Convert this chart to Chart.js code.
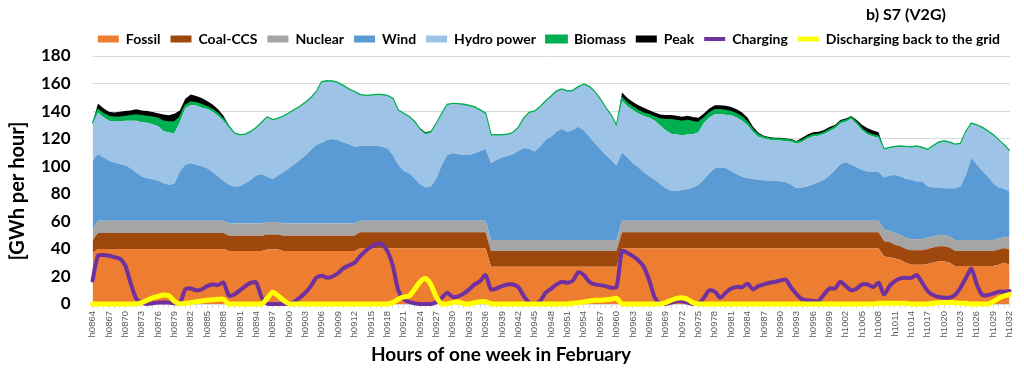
<!DOCTYPE html>
<html>
<head>
<meta charset="utf-8">
<script src="https://cdn.jsdelivr.net/npm/chart.js@4.4.1/dist/chart.umd.min.js"></script>
<style>
  html, body { margin: 0; padding: 0; background: #ffffff; }
  #wrap { width: 1024px; height: 373px; }
</style>
</head>
<body>
<div id="wrap"><canvas id="c" width="1024" height="373"></canvas></div>
<script>
const CHART_TITLE = 'b) S7 (V2G)';
const X_TITLE = 'Hours of one week in February';
const Y_TITLE = '[GWh per hour]';
const Y_TICKS = [0, 20, 40, 60, 80, 100, 120, 140, 160, 180];

const HOURS = [
'h0864','h0865','h0866','h0867','h0868','h0869','h0870','h0871','h0872','h0873','h0874','h0875',
'h0876','h0877','h0878','h0879','h0880','h0881','h0882','h0883','h0884','h0885','h0886','h0887',
'h0888','h0889','h0890','h0891','h0892','h0893','h0894','h0895','h0896','h0897','h0898','h0899',
'h0900','h0901','h0902','h0903','h0904','h0905','h0906','h0907','h0908','h0909','h0910','h0911',
'h0912','h0913','h0914','h0915','h0916','h0917','h0918','h0919','h0920','h0921','h0922','h0923',
'h0924','h0925','h0926','h0927','h0928','h0929','h0930','h0931','h0932','h0933','h0934','h0935',
'h0936','h0937','h0938','h0939','h0940','h0941','h0942','h0943','h0944','h0945','h0946','h0947',
'h0948','h0949','h0950','h0951','h0952','h0953','h0954','h0955','h0956','h0957','h0958','h0959',
'h0960','h0961','h0962','h0963','h0964','h0965','h0966','h0967','h0968','h0969','h0970','h0971',
'h0972','h0973','h0974','h0975','h0976','h0977','h0978','h0979','h0980','h0981','h0982','h0983',
'h0984','h0985','h0986','h0987','h0988','h0989','h0990','h0991','h0992','h0993','h0994','h0995',
'h0996','h0997','h0998','h0999','h1000','h1001','h1002','h1003','h1004','h1005','h1006','h1007',
'h1008','h1009','h1010','h1011','h1012','h1013','h1014','h1015','h1016','h1017','h1018','h1019',
'h1020','h1021','h1022','h1023','h1024','h1025','h1026','h1027','h1028','h1029','h1030','h1031',
'h1032'];

const FOSSIL = [
37,40,40,40,40,40,40,40,40,40,40,40,
40,40,40,40,40,40,40,40,40,40,40,40,
40,38.5,38.5,38.5,38.5,38.5,38.5,38.5,39.5,39.5,39.5,38.5,
38.5,38.5,38.5,38.5,38.5,38.5,38.5,38.5,38.5,38.5,38.5,38.5,
38.5,40.5,40.5,40.5,40.5,40.5,40.5,40.5,40.5,40.5,40.5,40.5,
40.5,40.5,40.5,40.5,40.5,40.5,40.5,40.5,40.5,40.5,40.5,40.5,
40.5,27,27,27,27,27,27,27,27,27,27,27,
27,27,27,27,27,27,27,27,27,27,27,27,
27,40.5,40.5,40.5,40.5,40.5,40.5,40.5,40.5,40.5,40.5,40.5,
40.5,40.5,40.5,40.5,40.5,40.5,40.5,40.5,40.5,40.5,40.5,40.5,
40.5,40.5,40.5,40.5,40.5,40.5,40.5,40.5,40.5,40.5,40.5,40.5,
40.5,40.5,40.5,40.5,40.5,40.5,40.5,40.5,40.5,40.5,40.5,40.5,
40.5,34.5,34,33,32,30,28.5,28.5,28.5,29,30,31,
31,30,27.5,27.5,27.5,27.5,27.5,27.5,27.5,27.5,28.5,30,
28.5];

const COAL_CCS = [
9,11.5,11.5,11.5,11.5,11.5,11.5,11.5,11.5,11.5,11.5,11.5,
11.5,11.5,11.5,11.5,11.5,11.5,11.5,11.5,11.5,11.5,11.5,11.5,
11.5,11,11,11,11,11,11,11,11,11,11,11,
11,11,11,11,11,11,11,11,11,11,11,11,
11,11.5,11.5,11.5,11.5,11.5,11.5,11.5,11.5,11.5,11.5,11.5,
11.5,11.5,11.5,11.5,11.5,11.5,11.5,11.5,11.5,11.5,11.5,11.5,
11.5,11.5,11.5,11.5,11.5,11.5,11.5,11.5,11.5,11.5,11.5,11.5,
11.5,11.5,11.5,11.5,11.5,11.5,11.5,11.5,11.5,11.5,11.5,11.5,
11.5,11.5,11.5,11.5,11.5,11.5,11.5,11.5,11.5,11.5,11.5,11.5,
11.5,11.5,11.5,11.5,11.5,11.5,11.5,11.5,11.5,11.5,11.5,11.5,
11.5,11.5,11.5,11.5,11.5,11.5,11.5,11.5,11.5,11.5,11.5,11.5,
11.5,11.5,11.5,11.5,11.5,11.5,11.5,11.5,11.5,11.5,11.5,11.5,
11.5,11,11,10,10,10,10.5,10.5,10.5,11,11,11,
11,11,11,11,11,11,11,11,11,11,11,10.5,
11];

const NUCLEAR = [
8,9,9,9,9,9,9,9,9,9,9,9,
9,9,9,9,9,9,9,9,9,9,9,9,
9,9,9,9,9,9,9,9,9,9,9,9,
9,9,9,9,9,9,9,9,9,9,9,9,
9,8.5,8.5,8.5,8.5,8.5,8.5,8.5,8.5,8.5,8.5,8.5,
8.5,8.5,8.5,8.5,8.5,8.5,8.5,8.5,8.5,8.5,8.5,8.5,
8.5,8,8,8,8,8,8,8,8,8,8,8,
8,8,8,8,8,8,8,8,8,8,8,8,
8,8.5,8.5,8.5,8.5,8.5,8.5,8.5,8.5,8.5,8.5,8.5,
8.5,8.5,8.5,8.5,8.5,8.5,8.5,8.5,8.5,8.5,8.5,8.5,
8.5,8.5,8.5,8.5,8.5,8.5,8.5,8.5,8.5,8.5,8.5,8.5,
8.5,8.5,8.5,8.5,8.5,8.5,8.5,8.5,8.5,8.5,8.5,8.5,
8.5,8.5,8,8.5,8,8,8,8,8,8,8,8,
8,8,8,8,8,8,8,8,8,8,8,8,
9];

const WIND = [
50,48.2,45.8,43.5,42.2,41.2,40,38.1,34.9,32,30.8,30.1,
28.9,27.2,26,26.7,35.6,40.5,41.7,40.5,39.3,38.1,35.2,32,
28.9,28,26.8,27,29.2,31.6,34.8,35.7,32.8,31.3,33.8,37.2,
40.1,42.9,46.1,49.2,53.3,56.9,58.5,60.5,61.3,60.5,58.8,57.4,
55.7,54.2,54.2,54.4,54.4,53.7,52.5,47.7,40.5,36.1,34.4,30.8,
26.5,24.1,24.8,30.8,40.5,47.7,48.9,48.2,47.7,47.7,48.9,50.6,
52,55.7,58.1,59.8,61,62.2,64.6,66.5,66,64.1,67.7,72.5,
74.9,78.6,80.5,78.6,79.8,82.2,79.5,74.9,70.1,66,61.7,58.1,
54,49.4,45.8,41.7,38.5,35.2,32,29.6,26.5,23.6,21.7,21.7,
22.2,22.9,24.1,26,29.6,34.4,38.1,38.8,38.1,36.1,33.7,31.8,
30.8,30.3,29.6,29.1,28.9,28.9,28.4,27.9,26,23.6,24.1,24.8,
26.5,27.9,29.6,32.8,36.8,40.9,42.4,40.5,38.5,36.8,35.6,35.6,
35.2,37.8,40.3,42.2,42.5,42.8,43.1,41.9,41.9,37.3,35.6,34.6,
34.1,35.1,37.6,38.8,47.2,59.5,54.5,50.1,46,41.2,37.1,35.1,
33.2];

const HYDRO = [
26.5,30.3,29.2,29,29.8,30.8,32.5,34.4,37.6,39.5,40.2,39.8,
39.6,37.8,38,36.8,35.9,41,42.3,43,42.7,42.9,43.8,44,
43.6,41.5,38.2,36.8,35,34.6,34.3,37.2,43,42.5,41,40.3,
39.6,39.2,38.4,38.2,37.4,38.2,43.8,42.5,41.5,41.1,40.6,39.6,
39.4,36.9,36.2,36.3,36.7,37.4,37.9,40.6,39.3,41.3,40.6,40.6,
39.3,38.6,39,39.4,36.9,36.2,35.7,36.2,36.2,35.3,33.1,29.2,
25.4,20.1,17.7,16,15.2,15.2,16.5,21.3,26.1,29,28.5,27.8,
28.9,29,28.5,29,28.2,28.5,33.1,36,37,35.8,33.8,32.1,
28.5,37.6,37.3,38.5,39.3,40.7,42.7,42.9,42.6,42,41.4,40.9,
39.7,39.7,38.6,38.2,41.2,40.5,39.2,38.5,38.8,40.3,41.2,40.7,
38.4,33.9,31.2,30.6,29.8,29.3,29.8,29.8,31.3,32.2,33.1,34.8,
34.6,33.7,33.2,32.1,30.1,29.6,29.3,33.4,31.5,28.6,26.9,25.4,
24.9,20.3,19.8,20.1,21.6,23,23.5,25.2,24.2,26.3,29.9,32.3,
33.8,32.8,31.4,30.7,31,24.7,28.5,31,32.6,34.6,34,31.4,
29];

const BIOMASS = [
0.5,2,2.5,3,3,3,3,3.5,4,4.5,4.5,5,
5.5,7,7.5,8,3.5,2,2,2,2,1.5,1.5,1.5,
1,0.8,0.4,0.4,0.4,0.4,0.4,0.4,0.4,0.4,0.4,0.4,
0.4,0.4,0.4,0.4,0.4,0.4,0.4,0.4,0.4,0.4,0.4,0.4,
0.4,0.4,0.4,0.4,0.4,0.4,0.4,0.4,0.4,0.4,0.4,0.4,
0.4,0.4,0.4,0.4,0.4,0.4,0.4,0.4,0.4,0.4,0.4,0.4,
0.4,0.4,0.4,0.4,0.4,0.4,0.4,0.4,0.4,0.4,0.4,0.4,
0.4,0.4,0.4,0.4,0.4,0.4,0.4,0.4,0.4,0.4,0.4,0.4,
0.4,2,2,2,2,2,2,2.5,4.5,7.5,10,10,
10,10,9,7,3.5,3,3,3,3,2.5,2.5,2.5,
2,1.5,1.5,1,1,1,1,1,1,1,1,1,
1,1,1,1,1,1,1,1,1,1,1,1,
1,0.4,0.4,0.4,0.4,0.4,0.4,0.4,0.4,0.4,0.4,0.4,
0.4,0.4,0.4,0.4,0.4,0.4,0.4,0.4,0.4,0.4,0.4,0.4,
0.4];

const PEAK = [
0,4.5,4,3.5,3.5,4,4,4,4.4,4,4,4,
4,5,5,6,5,5,5.5,5,5,4.3,3.8,3.4,
2.6,0.6,0,0,0,0,0,0,0,0,0,0,
0,0,0,0,0,0,0,0,0,0,0,0,
0,0,0,0,0,0,0,0,0,0,0,0,
0.8,1,0.8,0,0,0,0,0,0,0,0,0,
0,0,0,0,0,0,0,0,0,0,0,0,
0,0,0,0,0,0,0,0,0,0,0,0,
0,4,4,4,4,4,3.5,3.5,3.5,3.5,3.5,3.5,
3.5,3.5,3.5,3.5,3.5,3.5,3.5,3.5,3.5,3.5,3.5,3.5,
3.5,2.5,1.5,1,1,1,1,1,1,1,2,2,
2,2,2,2,1.5,1.5,1.5,1,2,3,3.5,3.5,
3,0,0,0,0,0,0,0,0,0,0,0,
0,0,0,0,0,0,0,0,0,0,0,0,
0];

const CHARGING = [
17,35,35.5,35,34,33,28,15,4,1,0,0.5,
1,1,1,0.5,0.5,10.6,11.3,9.9,10.6,13,14.2,13.7,
15.5,6,7,9.9,13,15.4,15.5,4.6,0.2,0,0,0,
0.2,1.7,4.6,8.2,13,19,20.5,19,20,22.5,26,28,
30,34.5,38.5,41.5,43.5,43.5,38.5,28,10,3.5,1.5,0.5,
0,0,0,1.5,4.6,8.2,5,5.5,7.5,10.6,14.2,16.6,
21,10.6,11.3,13,14.2,14.2,12.3,5.8,1,0.2,2.2,8.2,
11,14.2,16.1,15.4,17,23,21,16.1,14.2,13.7,13,11.8,
12.3,38.5,37,34.7,31.6,27,17,4.6,0,0,1,2,
2,1,0,0,4.6,9.9,9,4.6,8.2,11.3,12.3,12.3,
14.7,10.6,13,14.2,15.4,16.1,17.1,17.6,11.8,7,3.4,2.7,
2.2,2.2,7,11.3,11.3,16.1,13,9.9,11.3,14.2,14.2,12.3,
15.4,7,13,16.6,18.6,19,19,21,15.4,9.4,6.5,5.1,
4.6,4.6,6.5,11.8,19,25.5,14.2,6.5,6.5,7.5,8.9,8.9,
9.4];

const DISCHARGING = [
0,0,0,0,0,0,0,0,0,1,2.7,4.5,
5.5,6.5,6,2,0,0.5,1,1.7,2.2,2.7,3.1,3.4,
3.4,0,0,0,0,0,0,0,4,8.5,6,2.7,
0.2,0,0,0,0,0,0,0,0,0,0,0,
0,0,0,0,0,0,0,1,3.4,5.1,5.8,10.6,
16,18.5,14,5,0,0,1,1.7,0.2,0,1,1.7,
1.7,0.2,0,0,0,0,0,0,0,0,0,0,
0,0,0,0,0.5,1,1.5,2.2,2.7,2.7,3.1,3.4,
4.1,0,0,0,0,0,0,0,0,1,2.7,4.1,
4.6,3.4,1,0,0,0,0,0,0,0,0,0,
0,0,0,0,0,0,0,0,0,0,0,0,
0,0,0,0,0,0,0,0,0,0,0,0,
0.5,0.5,0.5,0.5,0.5,0.5,0,0,0,0,0.5,1,
1,1,1,0.5,0.5,0,0,0,0,1.7,4.1,5.8,
7];

const FONT = 'Lato';

function area(label, data, color, fill, extra) {
  return Object.assign({
    label: label, data: data, fill: fill,
    backgroundColor: color, borderColor: color, borderWidth: 0,
    pointRadius: 0, pointHoverRadius: 0, tension: 0,
    stack: 'generation', order: 0, pointStyle: 'rect'
  }, extra || {});
}
function line(label, data, color, width, stack, order) {
  return {
    label: label, data: data, fill: false,
    backgroundColor: color, borderColor: color, borderWidth: width,
    pointRadius: 0, pointHoverRadius: 0, tension: 0.25,
    stack: stack, order: order, pointStyle: 'line', clip: 6,
    borderJoinStyle: 'round', borderCapStyle: 'round'
  };
}

const overlayTexts = {
  id: 'overlayTexts',
  afterDraw(chart) {
    const ctx = chart.ctx;
    ctx.save();
    ctx.fillStyle = '#000000';
    ctx.textAlign = 'center';
    ctx.textBaseline = 'middle';
    ctx.font = 'bold 16px ' + FONT;
    ctx.fillText(CHART_TITLE, 906, 15);
    ctx.font = 'bold 19px ' + FONT;
    ctx.fillText(X_TITLE, 501, 355);
    ctx.translate(18, 191);
    ctx.rotate(-Math.PI / 2);
    ctx.font = 'bold 20px ' + FONT;
    ctx.fillText(Y_TITLE, 0, 0);
    ctx.restore();
  }
};

new Chart(document.getElementById('c'), {
  type: 'line',
  data: {
    labels: HOURS,
    datasets: [
      area('Fossil', FOSSIL, '#ED7D31', 'origin'),
      area('Coal-CCS', COAL_CCS, '#9E480E', '-1'),
      area('Nuclear', NUCLEAR, '#A5A5A5', '-1'),
      area('Wind', WIND, '#5B9BD5', '-1'),
      area('Hydro power', HYDRO, '#9DC3E6', '-1'),
      area('Biomass', BIOMASS, '#00B050', '-1', {borderWidth: 1.8}),
      area('Peak', PEAK, '#000000', '-1'),
      line('Charging', CHARGING, '#7030A0', 4, 'charging', -1),
      line('Discharging back to the grid', DISCHARGING, '#FFFF00', 5, 'discharging', -2)
    ]
  },
  options: {
    responsive: false,
    animation: false,
    devicePixelRatio: 1,
    events: [],
    layout: { padding: { top: 22, right: 14, bottom: 0, left: 0 } },
    plugins: {
      title: { display: false },
      tooltip: { enabled: false },
      legend: {
        display: true,
        position: 'top',
        align: 'end',
        labels: {
          usePointStyle: true,
          pointStyleWidth: 21,
          boxHeight: 7,
          padding: 10,
          color: '#000000',
          font: { family: FONT, size: 14, weight: 'bold' },
          sort: (a, b) => a.datasetIndex - b.datasetIndex
        }
      }
    },
    scales: {
      x: {
        type: 'category',
        offset: false,
        grid: { display: true, drawOnChartArea: false, drawTicks: true, tickLength: 4, color: '#D9D9D9' },
        border: { display: true, color: '#D9D9D9' },
        ticks: {
          autoSkip: false,
          minRotation: 90,
          maxRotation: 90,
          padding: 3,
          color: '#595959',
          font: { family: 'Liberation Sans', size: 9.5 },
          callback: function (value, index) { return index % 3 === 0 ? HOURS[index] : ''; }
        },
        afterFit: (scale) => { scale.height = 69; }
      },
      y: {
        stacked: true,
        min: 0,
        max: 180,
        afterBuildTicks: (scale) => { scale.ticks = Y_TICKS.map(v => ({ value: v })); },
        grid: { color: '#D9D9D9', drawTicks: false, lineWidth: 1 },
        border: { display: false },
        ticks: {
          padding: 22,
          color: '#000000',
          font: { family: FONT, size: 17, weight: 'bold' }
        },
        title: { display: false },
        afterFit: (scale) => { scale.width = 92.5; }
      }
    }
  },
  plugins: [overlayTexts]
});
</script>
</body>
</html>
